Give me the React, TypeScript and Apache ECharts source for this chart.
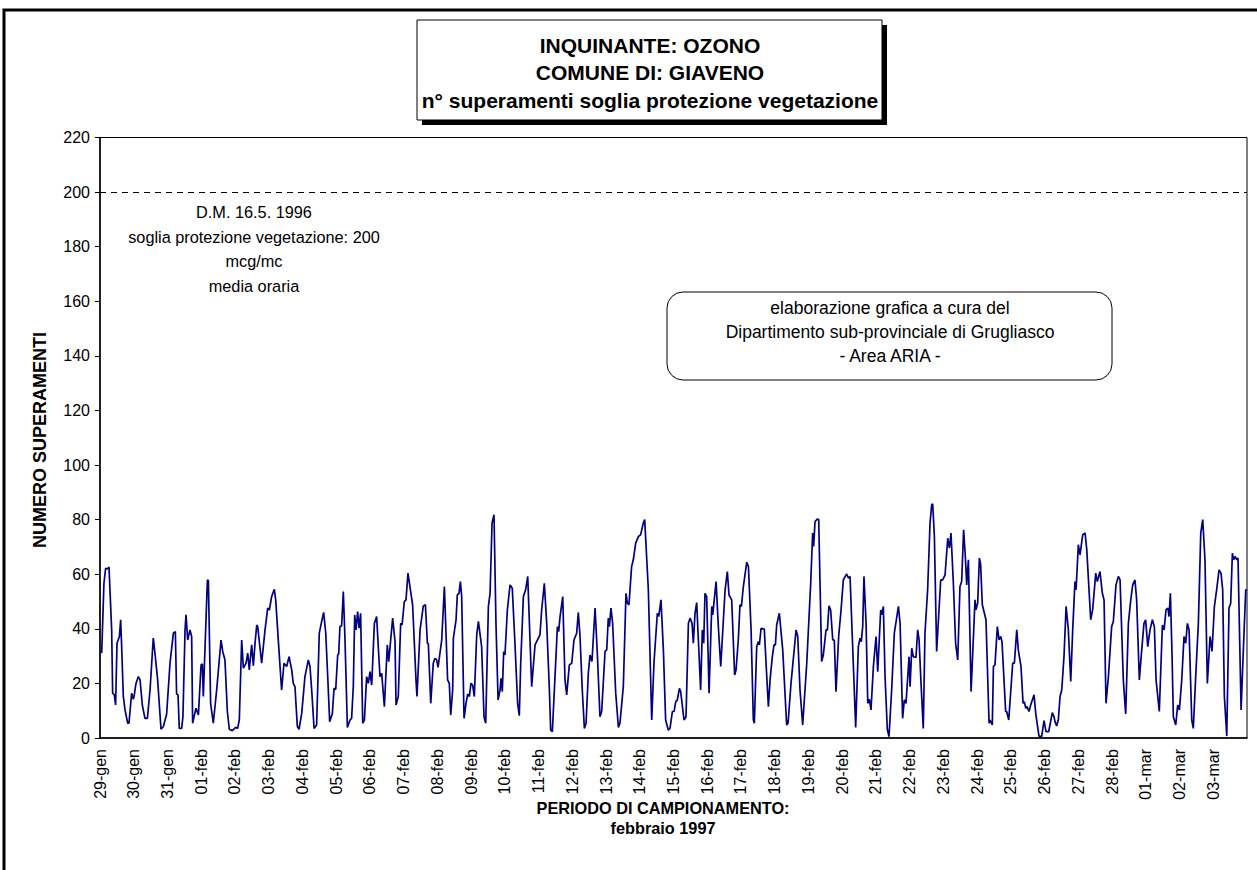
import React, { useEffect, useRef } from "react";
import * as echarts from "echarts";

// Day tick labels (one per 24 hourly samples)
const dayLabels = [
  "29-gen", "30-gen", "31-gen", "01-feb", "02-feb", "03-feb", "04-feb", "05-feb",
  "06-feb", "07-feb", "08-feb", "09-feb", "10-feb", "11-feb", "12-feb", "13-feb",
  "14-feb", "15-feb", "16-feb", "17-feb", "18-feb", "19-feb", "20-feb", "21-feb",
  "22-feb", "23-feb", "24-feb", "25-feb", "26-feb", "27-feb", "28-feb", "01-mar",
  "02-mar", "03-mar",
];

// Hours elapsed since 29-gen 00:00 of each vertex of the hourly curve
const hours = [
  1.2, 2.8, 4.0, 5.2, 6.4, 8.3, 9.0, 10.2, 11.1, 12.1, 13.8, 14.7, 15.4, 16.6, 17.8, 19.7, 20.6, 22.5, 23.7, 24.4,
  25.6, 27.3, 28.5, 30.1, 32.0, 33.7, 35.6, 37.9, 39.1, 41.0, 43.4, 45.1, 47.4, 49.8, 52.2, 53.6, 54.5, 55.5, 56.4, 58.1,
  59.0, 60.5, 61.2, 62.4, 64.0, 65.2, 65.9, 66.9, 68.3, 70.0, 71.9, 72.8, 73.5, 76.4, 77.1, 78.7, 80.6, 83.0, 86.1, 87.3,
  88.9, 90.6, 92.0, 94.1, 96.5, 97.9, 99.1, 100.8, 102.0, 103.9, 105.1, 106.2, 107.9, 109.1, 110.3, 111.5, 112.2, 115.0, 117.4, 119.3,
  120.5, 122.1, 124.0, 125.0, 127.3, 129.2, 130.9, 132.8, 134.5,
  136.4, 137.5, 138.7, 140.4, 141.6, 143.5, 145.8, 148.2, 149.4, 150.6, 152.3, 154.1, 156.0, 157.7, 159.1, 160.6, 162.0, 163.4, 165.3, 166.5,
  167.7, 169.1, 169.8, 170.7, 171.9, 173.1, 174.3, 176.0, 177.9, 179.0, 180.2, 181.2, 182.1, 183.3, 184.3, 185.4, 186.9, 188.1, 189.7, 190.9,
  192.1, 193.3, 195.2, 196.8, 198.5, 199.2, 200.4, 202.3, 204.4, 205.4, 208.2, 209.9, 210.6, 212.2, 213.9, 214.9, 216.5, 217.7, 219.1, 222.4,
  224.8, 225.5, 227.7, 230.0, 231.5, 232.9, 233.6, 235.3, 237.1, 238.3, 239.5, 240.5, 243.1, 245.0, 247.3, 248.5, 249.5, 250.9, 251.4, 253.3,
  254.2, 255.4, 256.4, 257.3, 259.0, 260.4, 261.6, 262.8, 263.9, 265.1, 266.3, 268.0, 269.2,
  271.5, 273.2, 274.4, 276.3, 277.5, 278.9, 280.3, 281.7, 283.2, 284.6, 285.3, 286.2, 287.2, 288.1, 289.8, 291.7, 293.3, 295.2, 297.1, 298.3,
  299.3, 301.2, 302.8, 304.3, 305.4, 307.1, 309.5, 313.0, 314.2, 316.1, 317.8, 319.7, 320.6, 321.8, 323.7, 325.4, 326.3, 327.3, 329.2, 330.8,
  332.0, 333.9, 335.6, 337.2, 339.1, 340.3, 341.5, 343.1, 344.6, 345.8, 347.4, 348.6, 350.0, 352.2, 353.8, 355.7, 356.9, 359.3, 360.5, 361.6,
  362.4, 363.5, 364.7, 366.9, 368.8, 369.9, 372.3, 374.2, 375.2, 376.3, 378.2, 379.4, 381.1, 383.0, 384.6, 386.5, 387.5, 390.1, 392.5, 394.1,
  396.5, 397.5, 399.1, 400.8, 402.4, 404.3,
  405.5, 407.2, 408.4, 409.6, 410.7, 412.2, 413.1, 415.5, 416.9, 418.6, 419.8, 421.2, 422.1, 423.3, 424.5, 425.7, 427.3, 428.5, 429.5, 430.4,
  431.6, 433.3, 435.2, 435.9, 438.3, 439.9, 441.6, 444.7, 446.3, 447.5, 449.4, 451.5, 452.5, 454.1, 455.3, 456.3, 457.7, 460.1, 461.3, 463.2,
  464.8, 465.5, 467.2, 468.4, 469.1, 470.3, 472.6, 474.1, 475.5, 476.7, 478.3, 479.5, 480.5, 481.4, 483.3, 485.7, 488.5, 489.5, 491.6, 495.2,
  496.4, 498.0, 499.9, 502.8, 505.6, 507.0, 507.7, 508.7, 510.3, 511.3, 513.4, 514.6, 516.5, 517.5, 518.6, 519.8, 521.3, 522.4, 523.6, 525.5,
  527.2, 528.8, 531.2, 532.4, 533.6,
  537.6, 539.5, 540.7, 541.6, 542.6, 543.5, 545.0, 546.2, 547.3, 548.5, 550.2, 552.1, 553.3, 555.4, 556.1, 557.3, 558.5, 560.1, 561.3, 563.2,
  565.1, 568.0, 569.2, 571.0, 572.2, 573.4, 575.6, 576.3, 577.5, 578.6, 580.5, 581.7, 582.7, 584.1, 585.7, 586.9, 588.8, 590.5, 591.7, 592.4,
  593.6, 595.2, 598.1, 599.5, 601.2, 603.1, 604.3, 605.4, 607.1, 608.7, 610.2, 611.8, 613.0, 614.4, 615.6, 616.6, 617.8, 619.7, 622.5, 623.2,
  624.4, 625.6, 626.5, 627.7, 630.3, 630.8, 632.5, 633.2, 634.8, 635.6, 636.7, 638.4, 639.6, 640.8, 641.7, 644.3, 645.0, 646.5, 649.3, 650.5,
  652.2, 653.3, 655.2, 656.7, 657.6, 658.6, 659.5, 660.9, 662.1, 664.5, 665.7, 668.0, 669.9, 671.6, 673.0, 674.9,
  677.5, 678.7, 679.4, 680.6, 681.8, 683.0, 684.2, 685.8, 687.3, 688.9, 690.6, 692.0, 693.6, 694.4, 696.0, 697.2, 699.1, 700.8, 702.0, 704.8,
  706.2, 708.4, 709.5, 711.4, 713.1, 714.3, 715.7, 717.4, 719.7, 720.9, 722.8, 724.5, 725.7, 728.0, 729.7, 731.6, 733.3, 734.7, 736.3, 737.5,
  739.4, 741.1, 742.7, 743.9, 745.4, 747.0, 748.7, 750.1, 751.3, 753.6, 755.8, 757.0, 758.4, 759.8, 760.5, 761.5, 762.7, 763.6, 765.3, 766.7,
  767.9, 769.5, 771.2, 772.4, 773.6, 774.8, 776.7, 777.8, 779.5, 781.4, 783.1, 784.5, 786.1, 787.8, 789.7, 791.1, 792.8, 794.4, 796.1, 797.5,
  798.7, 799.9, 801.6, 803.2, 804.4, 805.6, 806.5, 807.5, 808.7, 809.6, 811.8, 813.4, 815.1, 816.0,
];

// Number of exceedances read at each vertex
const values = [
  31.1, 56.7, 62.2, 61.9, 62.6, 39.6, 16.4, 15.8, 12.1, 34.7, 37.2, 43.3, 33.5, 15.2, 10.3, 5.4, 5.4, 16.4, 14.2, 15.8,
  20, 22.5, 21.3, 12.1, 7.2, 7.2, 17.6, 36.6, 31.1, 21.3, 3.2, 4.2, 8.8, 27.4, 38.4, 39.0, 16.1, 15.8, 3.5, 3.5,
  7.8, 39.6, 45.1, 35.9, 39.6, 37.2, 5.4, 7.8, 10.9, 8.4, 26.8, 27.1, 15.2, 57.9, 57.7, 12.7, 5.4, 17.6, 35.9, 31.7,
  28.6, 9.7, 3.2, 2.7, 3.9, 3.5, 6.6, 35.9, 25.6, 27.4, 31.1, 24.9, 34.1, 26.5, 34.7, 41.4, 40.8, 27.4, 39.6, 47.6,
  46.9, 51.8, 54.5, 50.6, 32.3, 17.6, 27.4, 26.2, 29.8,
  24.9, 20, 18.8, 4.2, 3.2, 9, 22.5, 28.6, 26.2, 17.6, 3.5, 4.8, 38.4, 42.7, 46, 38.4, 22.5, 6, 9, 18.2,
  17.8, 30.4, 30.8, 40.8, 41.1, 53.7, 35.9, 3.9, 6.6, 7.2, 18.8, 45.1, 39.6, 46.3, 40.2, 45.7, 5.4, 6.6, 22.5, 20,
  24.3, 19.4, 42, 44.5, 28.6, 22.5, 23.7, 11.5, 34.1, 28, 43.9, 35.3, 12.1, 15.2, 42, 41.4, 50, 50.6, 60.4, 48.8,
  21.3, 15.2, 39.6, 48.4, 48.8, 34.7, 34.5, 12.7, 27.4, 29.2, 28.6, 25.9, 35.9, 55.5, 21.3, 20, 8.4, 17.6, 36.6, 43.3,
  52.4, 53, 57.3, 51.8, 7.2, 12.7, 16.1, 15.2, 20, 19.4, 15.2, 37.8, 42.7,
  33.5, 7.8, 5.4, 48.2, 53, 78.7, 81.8, 42, 13.9, 17.6, 21.9, 17, 31.7, 30.4, 46.9, 56.1, 54.9, 34.7, 12.7, 8.2,
  27.4, 51.8, 54.3, 59.2, 43.3, 18.8, 34.1, 37.8, 46.9, 56.7, 42, 17.6, 2.9, 2.3, 22.5, 40.8, 39, 44.5, 51.8, 21.3,
  15.8, 26.8, 27.4, 35.9, 38.4, 46, 37.2, 17.6, 3.5, 5.4, 23.7, 30.4, 28, 47.6, 31.1, 7.8, 9.7, 31.7, 32.3, 43.9,
  40.8, 47.6, 42, 16.4, 3.9, 5.4, 18.8, 53, 49.4, 48.8, 62.8, 65.3, 71.4, 73.8, 74.4, 78.7, 80, 54.3, 6.6, 27.4,
  45.7, 44.5, 50.6, 32.3, 6.6, 2.9,
  3.5, 9.7, 9.7, 13.3, 13.9, 18.2, 17, 6.6, 7.8, 42, 43.9, 42, 34.7, 45.7, 49.6, 35.9, 17.6, 39.6, 34.7, 53,
  51.8, 16.4, 48.2, 45.1, 57.3, 40.8, 26.2, 54.3, 61, 52.4, 50.6, 23.1, 24.9, 35.9, 48.8, 48.2, 55.5, 64.4, 62.8, 39.6,
  6.6, 5.4, 33.5, 35.3, 34.1, 40.2, 39.9, 24.9, 11.5, 21.3, 29.8, 34.1, 34.1, 41.4, 45.7, 32.3, 4.8, 5.4, 20, 39.6,
  37.2, 17.6, 4.8, 27.4, 56.7, 75.1, 70.2, 79.3, 80.2, 80, 28, 30.4, 39.6, 39.6, 48.4, 46.9, 35.9, 35.9, 17, 37.2,
  46.9, 57.9, 60.1, 58.6, 59.2,
  3.9, 33.5, 36.6, 35.3, 40.8, 59.2, 42, 12.7, 14.2, 10.3, 26.2, 37.2, 24.3, 46.9, 45.1, 48.2, 22.5, 3.2, 0.5, 17.6,
  38.4, 48.2, 42, 7.2, 14, 12.7, 29.8, 18.8, 32.9, 29.8, 29.5, 39.6, 36, 20, 3.5, 38.4, 54.3, 78.7, 85.5, 85.8,
  73.8, 31.7, 57.9, 57.9, 59.8, 73.2, 69.6, 75.1, 56.7, 34.7, 28.6, 55.5, 57.3, 76.3, 66.5, 56.1, 65.3, 17, 50.6, 47,
  49.4, 65.9, 63.6, 48.8, 43.3, 34.7, 5.4, 6.6, 4.8, 26.2, 26.8, 40.8, 35.9, 37.2, 35.3, 9.7, 9.7, 6.6, 27.4, 27.4,
  39.6, 32.3, 26.2, 12.7, 13.3, 10.9, 11.5, 9.7, 12.1, 15.8, 9, 0.7, 0.5, 6.4, 2.3, 2.3,
  9.3, 7.8, 6, 4.4, 6.8, 15.2, 17.6, 29.8, 48.2, 39.6, 20.7, 39.6, 57.3, 54.3, 70.8, 67.1, 74.4, 75.1, 69, 43.3,
  47, 60.4, 57.3, 61, 53, 50.6, 12.7, 22.5, 40.8, 42.7, 56.1, 59.2, 57.9, 21.3, 8.8, 42, 50.6, 56.1, 57.9, 50.6,
  21.3, 32.3, 42, 43.3, 33.5, 39.6, 43.3, 40.8, 21.3, 9.7, 41.4, 39.6, 47, 47.6, 44.5, 53, 29.8, 7.8, 4.8, 12.1,
  10.3, 20.7, 37.2, 34.7, 42, 39.6, 6.6, 3.5, 22.5, 42, 75.1, 80, 65.3, 20, 37.2, 31.7, 48.2, 54.3, 61.6, 60.4,
  54.3, 15.2, 0.7, 47.6, 49.4, 67.7, 65.3, 66.5, 65.3, 65.9, 10.3, 32.3, 54.3, 54.3,
];

const threshold = 200;
const titleLines = ["INQUINANTE: OZONO", "COMUNE DI: GIAVENO", "n° superamenti soglia protezione vegetazione"];
const noteLines = ["D.M. 16.5. 1996", "soglia protezione vegetazione: 200", "mcg/mc", "media oraria"];
const creditLines = ["elaborazione grafica a cura del", "Dipartimento sub-provinciale di Grugliasco", "- Area ARIA -"];
const yAxisTitle = "NUMERO SUPERAMENTI";
const xAxisTitle = ["PERIODO DI CAMPIONAMENTO:", "febbraio 1997"];

const FONT = "'Liberation Sans', Arial, Helvetica, sans-serif";

export default function App() {
  const ref = useRef<HTMLDivElement>(null);

  useEffect(() => {
    if (!ref.current) return;
    const chart = echarts.init(ref.current, null, { renderer: "svg" });
    const data = hours.map((h, i) => [h, values[i]]);

    chart.setOption({
      animation: false,
      backgroundColor: "#ffffff",
      textStyle: { fontFamily: FONT },
      grid: {
        left: 100,
        right: 10,
        top: 137.5,
        bottom: 132,
        show: true,
        borderColor: "#000",
        borderWidth: 1,
        backgroundColor: "transparent",
      },
      xAxis: {
        type: "value",
        min: 0,
        max: 816,
        interval: 24,
        axisLine: { show: true, onZero: false, lineStyle: { color: "#000", width: 1.5 } },
        axisTick: { show: false },
        splitLine: { show: false },
        axisLabel: {
          rotate: 90,
          margin: 11,
          fontSize: 16,
          color: "#000",
          fontFamily: FONT,
          showMaxLabel: false,
          formatter: (v: number) => dayLabels[Math.round(v / 24)] ?? "",
        },
      },
      yAxis: {
        type: "value",
        min: 0,
        max: 220,
        interval: 20,
        axisLine: { show: true, lineStyle: { color: "#000", width: 1.5 } },
        axisTick: { show: true, inside: false, length: 5, lineStyle: { color: "#000" } },
        splitLine: { show: false },
        axisLabel: { fontSize: 16, color: "#000", margin: 10, fontFamily: FONT },
      },
      series: [
        {
          type: "line",
          data,
          showSymbol: false,
          symbol: "none",
          lineStyle: { color: "#000080", width: 1.7 },
          z: 3,
          markLine: {
            silent: true,
            symbol: "none",
            label: { show: false },
            lineStyle: { color: "#000", width: 1, type: [6, 5] },
            data: [{ yAxis: threshold }],
          },
        },
      ],
      graphic: [
        // outer frame
        {
          type: "rect",
          shape: { x: 4, y: 10, width: 1300, height: 900 },
          style: { fill: "transparent", stroke: "#000", lineWidth: 3 },
          silent: true,
        },
        // title box shadow
        {
          type: "rect",
          shape: { x: 422, y: 25, width: 465, height: 100 },
          style: { fill: "#000" },
          silent: true,
        },
        {
          type: "rect",
          shape: { x: 417, y: 20, width: 465, height: 100 },
          style: { fill: "#fff", stroke: "#000", lineWidth: 1 },
          silent: true,
        },
        ...titleLines.map((t, i) => ({
          type: "text",
          x: 650,
          y: 45 + i * 27.5,
          silent: true,
          style: {
            text: t,
            fill: "#000",
            fontSize: 21,
            fontWeight: "bold",
            fontFamily: FONT,
            align: "center",
            verticalAlign: "middle",
          },
        })),
        // threshold note
        ...noteLines.map((t, i) => ({
          type: "text",
          x: 254,
          y: 212 + i * 24.5,
          silent: true,
          style: {
            text: t,
            fill: "#000",
            fontSize: 16.3,
            fontFamily: FONT,
            align: "center",
            verticalAlign: "middle",
          },
        })),
        // credit box
        {
          type: "rect",
          shape: { x: 667, y: 292, width: 445, height: 88, r: 16 },
          style: { fill: "#fff", stroke: "#000", lineWidth: 1 },
          silent: true,
        },
        ...creditLines.map((t, i) => ({
          type: "text",
          x: 890,
          y: 308 + i * 24,
          silent: true,
          style: {
            text: t,
            fill: "#000",
            fontSize: 17.5,
            fontFamily: FONT,
            align: "center",
            verticalAlign: "middle",
          },
        })),
        // y axis title
        {
          type: "text",
          x: 40,
          y: 440,
          rotation: Math.PI / 2,
          silent: true,
          style: {
            text: yAxisTitle,
            fill: "#000",
            fontSize: 18,
            fontWeight: "bold",
            fontFamily: FONT,
            align: "center",
            verticalAlign: "middle",
          },
        },
        ...xAxisTitle.map((t, i) => ({
          type: "text",
          x: 663,
          y: 808 + i * 20,
          silent: true,
          style: {
            text: t,
            fill: "#000",
            fontSize: 16.3,
            fontWeight: "bold",
            fontFamily: FONT,
            align: "center",
            verticalAlign: "middle",
          },
        })),
      ],
    });

    return () => chart.dispose();
  }, []);

  return (
    <div
      ref={ref}
      style={{ position: "absolute", left: 0, top: 0, width: 1257, height: 870, background: "#fff" }}
    />
  );
}
